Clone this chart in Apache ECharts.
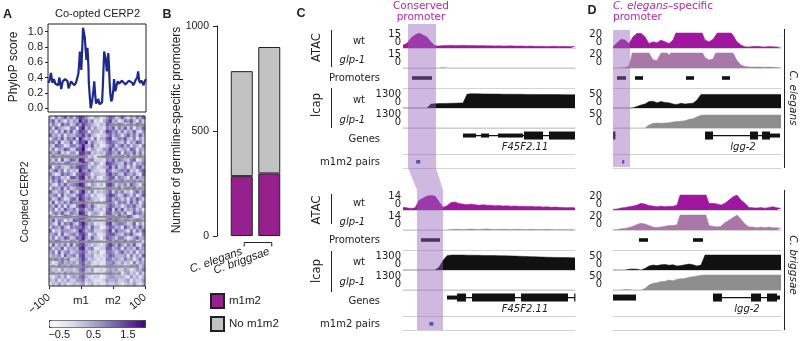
<!DOCTYPE html>
<html>
<head>
<meta charset="utf-8">
<script src="https://cdn.jsdelivr.net/npm/echarts@6.0.0/dist/echarts.min.js"></script>
<style>
html, body { margin: 0; padding: 0; background: #fff; }
#main { width: 800px; height: 341px; }
</style>
</head>
<body>
<div id="main"></div>
<script>
// ---------- panel A : PhyloP profile ----------
var phyloPos = [-99, -97, -94, -91, -88, -85, -81, -79, -77, -75, -73, -70, -67, -65, -63, -60, -58, -55, -53, -50,
  -46, -43, -41, -38, -36, -35, -33, -32, -30, -28.5, -27, -25, -23, -21.5, -19.4, -17.5, -16.7, -15, -13, -11,
  -9, -7, -5.6, -4, -2, 0, 2.8, 5, 6, 8, 10.4, 12, 14.6, 16, 17.4, 19, 20, 21.5, 23, 24.5,
  25.7, 27, 29, 31, 32, 33.5, 34.7, 36, 37.5, 40, 42.4, 45, 48, 51, 55, 58, 62, 65, 69, 72,
  74, 77, 79, 82, 84, 86, 88, 91, 93, 95, 96.5, 98, 100];
var phyloVal = [0.33, 0.36, 0.46, 0.33, 0.38, 0.32, 0.34, 0.30, 0.40, 0.33, 0.25, 0.35, 0.33, 0.38, 0.40, 0.35, 0.26, 0.31, 0.35, 0.33,
  0.30, 0.33, 0.35, 0.45, 0.62, 0.74, 0.60, 0.50, 0.80, 1.05, 1.00, 0.93, 0.75, 0.63, 0.79, 0.55, 0.33, 0.18, 0.00, 0.05,
  0.14, 0.25, 0.35, 0.20, 0.06, 0.08, 0.12, 0.05, 0.03, 0.06, 0.08, 0.30, 0.74, 0.70, 0.65, 0.55, 0.48, 0.60, 0.72, 0.55,
  0.35, 0.20, 0.09, 0.12, 0.10, 0.25, 0.38, 0.30, 0.22, 0.30, 0.35, 0.32, 0.30, 0.36, 0.37, 0.31, 0.32, 0.36, 0.38, 0.33,
  0.30, 0.34, 0.37, 0.40, 0.48, 0.36, 0.33, 0.36, 0.35, 0.30, 0.28, 0.36, 0.38];
var phyloTicks = [0, 0.2, 0.4, 0.6, 0.8, 1.0];

// heatmap: one string per element (row), one digit per position bin (level 0..9)
var heatRows = [
  "31524635 25764213 31246523 63142536", "46253142 43856351 20357341 25463152",
  "25316452 36475432 13265436 41352643", "52643215 51683524 22154625 36251436",
  "34152636 24765143 31376452 52436214", "63425143 35574632 02246354 14635263",
  "14536254 62853415 13367235 46325142", "45261336 14768253 21256543 25143652",
  "32654125 53584362 30135624 63524315", "25143652 26693143 12447352 34265143",
  "53462314 41775623 23256436 15436252", "16325453 35664231 01365243 52614353",
  "42516236 53873452 22154635 43256124", "35241563 24586314 30276543 26351435",
  "61453225 46765243 12347362 35142563", "24635142 32854632 21165234 54623146",
  "53126453 15675413 32257453 26435216", "36452316 64783524 10346625 43152634",
  "25364152 23664352 21256343 62435142", "42153634 56873143 13167524 35264315",
  "15436252 34575632 20255436 14536243", "63245316 42684251 32346253 52314635",
  "34516243 25763413 11257642 36425136", "52364125 63864532 20156354 24153642",
  "26143536 34574241 31367425 45263514", "43625152 15785363 12246534 13546325",
  "35142643 52663452 23157263 62435241", "14536325 43874134 30266345 35126453",
  "52413654 24566243 21345526 43652134", "36254132 65773512 12156473 25314652",
  "43162546 32685341 21267345 54236142", "25436315 45574263 30146534 16425363",
  "61325443 24863452 22357264 43152536", "34516234 53675134 11256643 25463215",
  "25143652 36584263 20365425 53124634", "43652315 42763542 32146354 36245142",
  "16243526 25674323 21257536 42536215", "52436143 43783451 12266345 15342634",
  "35162452 34564232 30155424 63425143", "24351634 52673341 21246533 34152426",
  "43526152 23574232 12155343 25341352", "31245343 42563421 21144532 42315243",
  "23153425 34474312 30245433 31243524", "42314233 23563241 12134342 24312435",
  "34231524 32452331 21245324 13423142", "21342413 43563212 20134433 32142313",
  "32413242 24452321 11243342 23413224", "13242312 32341231 21132232 12324213"
];
var HEAT_MIN = -0.5, HEAT_STEP = 0.28;   // level -> score
// missing data stretches: [row, first bin, last bin]
var heatNA = [[2, 20, 31], [11, 0, 12], [11, 16, 31], [13, 0, 12], [18, 6, 31], [20, 9, 31], [24, 8, 20],
  [28, 0, 25], [29, 10, 31], [35, 0, 29], [40, 0, 6], [42, 0, 29], [44, 0, 23]];
var heatTickPos = [-100, -33.3, 33.3, 100];
var heatTickText = ['−100', 'm1', 'm2', '100'];
var colorbarTicks = [-0.5, 0.5, 1.5];
var colorbarRange = [-0.8, 2.0];

// ---------- panel B ----------
var species = ['C. elegans', 'C. briggsae'];
var withM1m2 = [285, 298];
var withoutM1m2 = [500, 602];

// ---------- panel C : F45F2.11 locus (bins) ----------
var cTopAtacWt = [3, 4.7, 10, 13, 15, 13, 11, 6, 2.3, 2, 2.4, 2.6, 2.8, 2.6, 2.5, 2.7, 2.6, 2.4, 2.5, 2.3,
  2.4, 2.2, 2.3, 2.1, 2.2, 2, 2.1, 2.2, 2, 1.9, 2, 1.8, 1.9, 1.8, 1.7, 1.8, 1.6, 1.7, 1.8, 1.6, 1.7, 1.6, 1.5, 1.6];
var cTopAtacGlp = [0, 0, 0, 0, 0, 0, 0, 0, 0, 0, 0.6, 0, 0, 0, 0, 0, 0, 0, 0, 0, 0, 0, 0, 0, 0, 0, 0, 0, 0, 0,
  0, 0, 0, 0, 0, 0, 0, 0, 0, 0, 0, 0, 0, 0];
var cTopLcapWt = [0, 0, 0, 0, 0, 0, 0, 260, 275, 285, 295, 300, 310, 315, 320, 325,
  900, 930, 925, 920, 915, 915, 910, 905, 905, 900, 900, 895, 895, 890, 890, 885, 885, 880, 880, 875,
  875, 875, 870, 870, 868, 867, 866, 865];
var cTopLcapGlp = [0, 0, 0, 0, 0, 0, 0, 0, 0, 0, 0, 0, 0, 0, 0, 0, 0, 0, 0, 0, 0, 0, 0, 0, 0, 0, 0, 0, 0, 0,
  0, 0, 0, 0, 0, 0, 0, 0, 0, 0, 0, 0, 0, 0];
var cBotAtacWt = [2.5, 2, 1.5, 2, 9, 11, 13, 13.5, 13, 8, 2.5, 4, 7, 7.5, 6, 5.5, 5, 5.5, 5, 4.5,
  5, 4.5, 4.5, 4, 4.2, 3.8, 4, 3.6, 3.8, 3.4, 3.5, 3.2, 3.4, 3, 3.2, 2.8, 3, 2.6, 2.8, 2.5, 2.4, 2.2, 2.3, 2];
var cBotAtacGlp = [0, 0, 0, 0, 0, 0, 0, 0, 0, 0, 0, 0, 0.5, 0.8, 0.6, 0.4, 0.7, 0.9, 0.6, 0.5, 0.8, 1,
  0.7, 0.5, 0.6, 0.8, 0.6, 0.4, 0.5, 0.7, 0.5, 0.4, 0.6, 0.5, 0.4, 0.5, 0.6, 0.4, 0.3, 0.5, 0.4, 0.3, 0.4, 0.3];
var cBotLcapWt = [0, 0, 0, 0, 0, 0, 0, 0, 0, 180, 620, 930, 970, 975, 972, 968, 965, 960, 958,
  955, 950, 945, 940, 935, 930, 925, 920, 915, 905, 895, 885, 875, 865, 860, 850, 840, 830, 825, 820,
  815, 810, 805, 800, 790];
var cBotLcapGlp = [0, 0, 0, 0, 0, 0, 0, 0, 0, 0, 0, 0, 0, 0, 0, 0, 0, 0, 0, 0, 0, 0, 0, 0, 0, 0, 0, 0, 0, 0,
  0, 0, 0, 0, 0, 0, 0, 0, 0, 0, 0, 0, 0, 0];
var cTopProm = [[2.25, 7.25]];
var cBotProm = [[4.5, 9.25]];
var cTopGenes = [{name: 'F45F2.11', line: [15, 43], labelAt: 30.5,
  exons: [[15, 18.25, 'utr'], [19.5, 21.5, 'utr'], [23.75, 30, 'utr'], [30.25, 35, 'cds'], [36.5, 43, 'cds']]}];
var cBotGenes = [{name: 'F45F2.11', line: [11, 43], labelAt: 30.5,
  exons: [[11, 13.5, 'utr'], [13.5, 15.75, 'cds'], [17.25, 28, 'cds'], [29.5, 41.25, 'cds'], [42.8, 43, 'cds']]}];
var cTopPairs = [[3.3, 4.3]];
var cBotPairs = [[6.6, 7.6]];
var cShadeTop = [1.25, 8.25];
var cShadeBot = [3.5, 10];

// ---------- panel D : lgg-2 locus (bins) ----------
var dTopAtacWt = [1.7, 7, 11.6, 10.7, 6, 15, 19.6, 19.6, 15, 6, 8.4, 7, 10.7, 8.4, 6, 10.7, 24, 24, 24, 24,
  24, 24, 24, 10.7, 8.4, 11.6, 19.6, 24, 24, 24, 17, 8.4, 4, 1.7, 1.5, 2, 2.2, 1.8, 1.5, 2, 1.6, 1.3, 1.2];
var dTopAtacGlp = [0, 0, 0.3, 1, 2.5, 24, 24, 24, 24, 20, 11, 10, 20, 24, 17, 24, 24, 24, 24, 24,
  24, 24, 24, 14, 10.7, 12, 24, 24, 24, 24, 20, 10, 4, 2, 1.5, 1.2, 1.5, 1.3, 1, 1.2, 1, 0.8, 0.8];
var dTopLcapWt = [0, 0, 0, 0, 0, 0.5, 4, 7.5, 10, 16, 17, 13, 16, 14, 13, 10, 9, 12, 10, 11,
  12, 20, 34, 34, 34, 34, 34, 34, 34, 34, 34, 34, 34, 34, 34, 34, 34, 34, 34, 34, 34, 34, 34];
var dTopLcapGlp = [0, 0, 0, 0, 0, 0, 0, 0, 0, 7.5, 11.7, 12.5, 12, 12.5, 13, 15, 16, 17, 18, 21.7,
  23, 28, 32, 32.5, 32.5, 32.5, 32.5, 32.5, 32.5, 32.5, 32.5, 32.5, 32.5, 32.5, 32.5, 32.5, 32.5, 32.5, 32.5, 32.5, 32.5, 32.5, 32.5];
var dBotAtacWt = [1, 1.3, 2.7, 3.5, 4.4, 5.3, 6.7, 9, 8, 6, 5.3, 4.4, 5.3, 4.4, 5, 5, 6.7, 24, 24, 24,
  24, 24, 24, 24, 9, 9, 8, 6.7, 9, 13.3, 17.7, 20, 13.3, 9, 3.5, 3, 2.7, 3.2, 2.5, 3.5, 4.5, 3, 2.2];
var dBotAtacGlp = [0.5, 0.5, 1.6, 2, 3.3, 5, 7.5, 9, 8, 6, 4, 3.3, 4, 5, 6, 6, 7, 24, 24, 24,
  24, 24, 24, 24, 6, 5, 4, 5, 10, 13, 16.7, 20, 14.5, 8, 4, 4, 3, 4, 3, 4, 3, 3, 2];
var dBotLcapWt = [0, 0, 0, 0, 2, 2.5, 2, 0, 4, 10, 12.5, 11, 13, 14, 12, 13, 10, 11, 13, 15,
  13, 10, 12.5, 37.5, 37.5, 37.5, 37.5, 37.5, 37.5, 37.5, 37.5, 37.5, 37.5, 37.5, 37.5, 37.5, 37.5, 37.5, 37.5, 37.5, 37.5, 37.5, 37.5];
var dBotLcapGlp = [0, 0, 0, 1.5, 1, 0, 0, 0, 4, 12.5, 16.7, 18, 21, 22, 25, 23, 27, 28, 29, 32,
  33, 35, 37, 37.5, 37.5, 37.5, 37.5, 37.5, 37.5, 37.5, 37.5, 37.5, 37.5, 37.5, 37.5, 37.5, 37.5, 37.5, 37.5, 37.5, 37.5, 37.5, 37.5];
var dTopProm = [[1, 3.25], [5.5, 7.5], [18.25, 20.25], [27.25, 29.25]];
var dBotProm = [[6.5, 8.75], [20, 22.5]];
var dTopGenes = [{name: '', line: [0, 0.6], exons: [[0, 0.6, 'cds']]},
  {name: 'lgg-2', line: [23, 41.75], labelAt: 32.5,
   exons: [[23, 25, 'cds'], [34.25, 36.25, 'cds'], [37.25, 39.25, 'cds'], [39.25, 41.75, 'utr']]}];
var dBotGenes = [{name: '', line: [0, 5.75], exons: [[0, 5.75, 'mid']]},
  {name: 'lgg-2', line: [25, 41.75], labelAt: 33.5,
   exons: [[25, 27.25, 'cds'], [34.5, 37, 'cds'], [38.5, 41, 'cds'], [41, 41.75, 'utr']]}];
var dTopPairs = [[2.3, 2.8]];
var dBotPairs = [];
var dShade = [0, 4.25];

// ---------- styling ----------
var FONT_A = 'Liberation Sans, Arial, sans-serif';
var FONT_C = 'DejaVu Sans, sans-serif';
var INK = '#222';
var MAG = '#b02aae';
var ATAC_WT = '#a1169e', ATAC_GLP = '#a978a8', LCAP_WT = '#111', LCAP_GLP = '#8e8e8e';
var SEP = '#d4d4d4';
var EXON_H = {utr: 4, mid: 6, cds: 8};
var ROWS = {atacWt: [33, 15], atacGlp: [53, 15], prom: [68, 20], lcapWt: [88, 20], lcapGlp: [108, 20], genes: [128, 26], pairs: [154, 14]};

var myChart = echarts.init(document.getElementById('main'));
var grid = [], xAxis = [], yAxis = [], series = [];

function addGrid(g, xa, ya) {
  var i = grid.length;
  grid.push(g);
  xa.gridIndex = i; ya.gridIndex = i;
  xAxis.push(xa); yAxis.push(ya);
  return i;
}
function trackX(xmax) {
  return {type: 'value', min: 0, max: xmax, axisLine: {show: true, onZero: false, lineStyle: {color: SEP, width: 1}},
    axisTick: {show: false}, axisLabel: {show: false}, splitLine: {show: false}};
}
function hiddenAxis() { return {type: 'value', show: false, axisLine: {onZero: false}}; }

// ---- A: line ----
var aLine = addGrid({left: 48, top: 24, width: 98, height: 88, show: true, borderColor: INK, borderWidth: 1},
  {type: 'value', min: -100, max: 100, show: false, axisLine: {onZero: false}},
  {type: 'value', min: -0.05, max: 1.1, axisLine: {show: false, onZero: false}, splitLine: {show: false},
   axisTick: {show: true, length: 3, customValues: phyloTicks, lineStyle: {color: INK}},
   axisLabel: {customValues: phyloTicks, formatter: function (v) { return v.toFixed(1); }, fontSize: 11, color: INK, margin: 5, fontFamily: FONT_A}});
series.push({type: 'line', xAxisIndex: aLine, yAxisIndex: aLine, symbol: 'none', silent: true,
  data: phyloPos.map(function (p, i) { return [p, phyloVal[i]]; }),
  lineStyle: {color: '#1c2a8c', width: 2.2}});

// ---- A: heatmap ----
var nCols = heatRows[0].replace(/ /g, '').length;
var colIds = [], rowIds = [], heatData = [];
for (var c = 0; c < nCols; c++) colIds.push(String(c));
heatRows.forEach(function (row, r) {
  rowIds.push(String(r));
  row.replace(/ /g, '').split('').forEach(function (ch, c) {
    heatData.push([c, r, HEAT_MIN + Number(ch) * HEAT_STEP]);
  });
});
var aHeat = addGrid({left: 49, top: 116, width: 96, height: 170},
  {type: 'category', data: colIds, show: false},
  {type: 'category', data: rowIds, show: false, inverse: true});
var heatSeries = series.length;
series.push({type: 'heatmap', xAxisIndex: aHeat, yAxisIndex: aHeat, data: heatData, silent: true, progressive: 0});
series.push({type: 'custom', xAxisIndex: aHeat, yAxisIndex: aHeat, silent: true, z: 4, data: heatNA,
  encode: {x: [1, 2], y: 0},
  renderItem: function (params, api) {
    var a = api.coord([api.value(1), api.value(0)]);
    var b = api.coord([api.value(2), api.value(0)]);
    var s = api.size([1, 1]);
    return {type: 'rect', shape: {x: a[0] - s[0] / 2, y: a[1] - 0.9, width: b[0] - a[0] + s[0], height: 1.8},
      style: {fill: '#8d8d8d'}};
  }});
// frame + m1/m2 ticks
var aHx = addGrid({left: 49, top: 116, width: 96, height: 170, show: true, borderColor: '#333', borderWidth: 1, z: 10},
  {type: 'value', min: -100, max: 100, axisLine: {show: false, onZero: false}, splitLine: {show: false},
   axisTick: {customValues: heatTickPos, length: 3, lineStyle: {color: INK}},
   axisLabel: {customValues: heatTickPos.slice(1, 3), formatter: function (v) { return heatTickText[heatTickPos.indexOf(v)]; },
     fontSize: 11.5, color: INK, margin: 9, fontFamily: FONT_A}},
  hiddenAxis());
var aHx2 = addGrid({left: 49, top: 116, width: 96, height: 170},
  {type: 'value', min: -100, max: 100, axisLine: {show: false, onZero: false}, splitLine: {show: false}, axisTick: {show: false},
   axisLabel: {customValues: [heatTickPos[0], heatTickPos[3]], rotate: 40,
     formatter: function (v) { return heatTickText[heatTickPos.indexOf(v)]; },
     fontSize: 11, color: INK, margin: 10, fontFamily: FONT_A}},
  hiddenAxis());
// colorbar labels
var aCb = addGrid({left: 49, top: 320, width: 96, height: 7},
  {type: 'value', min: colorbarRange[0], max: colorbarRange[1], axisLine: {show: false, onZero: false}, splitLine: {show: false}, axisTick: {show: false},
   axisLabel: {customValues: colorbarTicks, formatter: function (v) { return String(v).replace('-', '−'); },
     fontSize: 11, color: INK, margin: 2, fontFamily: FONT_A}},
  hiddenAxis());

// ---- B ----
var bG = addGrid({left: 228, top: 26, width: 55, height: 210},
  {type: 'category', data: species, axisLine: {show: false, onZero: false}, axisTick: {show: false},
   axisLabel: {interval: 0, rotate: 20, fontStyle: 'italic', fontSize: 11.5, margin: 15, color: INK, fontFamily: FONT_A}},
  {type: 'value', min: 0, max: 1000, interval: 500, offset: 11,
   axisLine: {show: true, onZero: false, lineStyle: {color: INK}}, axisTick: {show: true, length: 4, lineStyle: {color: INK}},
   splitLine: {show: false}, axisLabel: {fontSize: 10.5, margin: 8, color: INK, fontFamily: FONT_A,
     formatter: function (v) { return String(v); }}});
series.push({name: 'm1m2', type: 'bar', stack: 'prom', xAxisIndex: bG, yAxisIndex: bG, data: withM1m2, barWidth: 22, silent: true,
  itemStyle: {color: '#97208f', borderColor: INK, borderWidth: 1}});
series.push({name: 'No m1m2', type: 'bar', stack: 'prom', xAxisIndex: bG, yAxisIndex: bG, data: withoutM1m2, barWidth: 22, silent: true,
  itemStyle: {color: '#c2c2c2', borderColor: INK, borderWidth: 1}});
series.push({type: 'custom', xAxisIndex: bG, yAxisIndex: bG, silent: true, data: [[0, 1]], encode: {x: [0, 1]},
  renderItem: function (params, api) {
    var a = api.coord([0, 0]), b = api.coord([1, 0]);
    var y = a[1] + 6.5, x0 = a[0] + 2.5, x1 = b[0] + 2.5;
    return {type: 'polyline', shape: {points: [[x0, y + 4], [x0, y], [x1, y], [x1, y + 4]]},
      style: {stroke: INK, lineWidth: 1, fill: null}};
  }});

// ---- C / D track blocks ----
function signalTrack(left, width, top, rowKey, xmax, ymax, values, color, margin) {
  var r = ROWS[rowKey];
  var g = addGrid({left: left, top: top + r[0], width: width, height: r[1]}, trackX(xmax),
    {type: 'value', min: 0, max: ymax, axisLine: {show: false, onZero: false}, axisTick: {show: false}, splitLine: {show: false},
     axisLabel: {customValues: [0], formatter: function () { return ymax + '\n0'; }, verticalAlign: 'bottom',
       align: 'right', lineHeight: 8, fontSize: 10, color: INK, margin: margin, padding: [0, 0, 2, 0], fontFamily: FONT_C}});
  series.push({type: 'line', xAxisIndex: g, yAxisIndex: g, symbol: 'none', silent: true, clip: true, z: 3,
    data: values.map(function (v, i) { return [i, v]; }),
    lineStyle: {width: 0.5, color: color}, areaStyle: {color: color, opacity: 1}});
  return g;
}
function annotGrid(left, width, top, rowKey, xmax) {
  var r = ROWS[rowKey];
  return addGrid({left: left, top: top + r[0], width: width, height: r[1]}, trackX(xmax),
    {type: 'value', min: 0, max: 1, show: false, axisLine: {onZero: false}});
}
function spanSeries(g, items, yFrac, h, fill) {
  series.push({type: 'custom', xAxisIndex: g, yAxisIndex: g, silent: true, z: 5, data: items, encode: {x: [0, 1]},
    renderItem: function (params, api) {
      var a = api.coord([api.value(0), yFrac]), b = api.coord([api.value(1), yFrac]);
      return {type: 'rect', shape: {x: a[0], y: a[1] - h / 2, width: Math.max(b[0] - a[0], 1.5), height: h}, style: {fill: fill}};
    }});
}
function geneSeries(g, genes) {
  series.push({type: 'custom', xAxisIndex: g, yAxisIndex: g, silent: true, z: 5,
    data: genes.map(function (gn) { return gn.line.slice(); }), encode: {x: [0, 1]},
    renderItem: function (params, api) {
      var gn = genes[params.dataIndex], ch = [];
      var GY = 0.71, LY = 0.25;
      var a = api.coord([gn.line[0], GY]), b = api.coord([gn.line[1], GY]);
      ch.push({type: 'line', shape: {x1: a[0], y1: a[1], x2: b[0], y2: b[1]}, style: {stroke: '#111', lineWidth: 1.2}});
      gn.exons.forEach(function (ex) {
        var s = api.coord([ex[0], GY]), e = api.coord([ex[1], GY]), h = EXON_H[ex[2]];
        ch.push({type: 'rect', shape: {x: s[0], y: s[1] - h / 2, width: Math.max(e[0] - s[0], 1.2), height: h}, style: {fill: '#111'}});
      });
      if (gn.name) {
        var t = api.coord([gn.labelAt, LY]);
        ch.push({type: 'text', x: t[0], y: t[1], style: {text: gn.name, fontSize: 10, fontStyle: 'italic', fontFamily: FONT_C,
          fill: INK, align: 'center', verticalAlign: 'middle'}});
      }
      return {type: 'group', children: ch};
    }});
}
function block(left, width, top, xmax, atacMax, lcapMax, d, margin) {
  var ids = {};
  ids.atacWt = signalTrack(left, width, top, 'atacWt', xmax, atacMax, d.atacWt, ATAC_WT, margin);
  ids.atacGlp = signalTrack(left, width, top, 'atacGlp', xmax, atacMax, d.atacGlp, ATAC_GLP, margin);
  ids.prom = annotGrid(left, width, top, 'prom', xmax);
  spanSeries(ids.prom, d.prom, 0.5, 3.6, '#111');
  ids.lcapWt = signalTrack(left, width, top, 'lcapWt', xmax, lcapMax, d.lcapWt, LCAP_WT, margin);
  ids.lcapGlp = signalTrack(left, width, top, 'lcapGlp', xmax, lcapMax, d.lcapGlp, LCAP_GLP, margin);
  ids.genes = annotGrid(left, width, top, 'genes', xmax);
  geneSeries(ids.genes, d.genes);
  ids.pairs = annotGrid(left, width, top, 'pairs', xmax);
  spanSeries(ids.pairs, d.pairs, 0.44, 3.5, '#2b3c9e');
  return ids;
}
var cTop = block(403, 172, 0, 43, 15, 1300, {atacWt: cTopAtacWt, atacGlp: cTopAtacGlp, lcapWt: cTopLcapWt, lcapGlp: cTopLcapGlp,
  prom: cTopProm, genes: cTopGenes, pairs: cTopPairs}, 2);
var cBot = block(403, 172, 162, 43, 14, 1300, {atacWt: cBotAtacWt, atacGlp: cBotAtacGlp, lcapWt: cBotLcapWt, lcapGlp: cBotLcapGlp,
  prom: cBotProm, genes: cBotGenes, pairs: cBotPairs}, 2);
var dTop = block(613, 168, 0, 42, 20, 50, {atacWt: dTopAtacWt, atacGlp: dTopAtacGlp, lcapWt: dTopLcapWt, lcapGlp: dTopLcapGlp,
  prom: dTopProm, genes: dTopGenes, pairs: dTopPairs}, 11);
var dBot = block(613, 168, 162, 42, 20, 50, {atacWt: dBotAtacWt, atacGlp: dBotAtacGlp, lcapWt: dBotLcapWt, lcapGlp: dBotLcapGlp,
  prom: dBotProm, genes: dBotGenes, pairs: dBotPairs}, 11);

var option = {
  animation: false,
  textStyle: {fontFamily: FONT_A},
  grid: grid, xAxis: xAxis, yAxis: yAxis, series: series,
  visualMap: [{type: 'continuous', seriesIndex: heatSeries, min: colorbarRange[0], max: colorbarRange[1], orient: 'horizontal',
    left: 49, top: 320, itemWidth: 7, itemHeight: 96, calculable: false, hoverLink: false, padding: 0,
    text: null, showLabel: false, borderColor: '#333', borderWidth: 1,
    inRange: {color: ['#fcfbfd', '#dadaeb', '#9e9ac8', '#6a51a3', '#3f007d']}}],
  legend: {data: ['m1m2', 'No m1m2'], orient: 'vertical', left: 210, top: 293, itemWidth: 13, itemHeight: 14, itemGap: 7,
    icon: 'rect', selectedMode: false, padding: 0, textStyle: {fontSize: 11.5, color: INK, fontFamily: FONT_A}}
};
myChart.setOption(option);

// ---- text and decorations ----
function txt(x, y, s, o) {
  o = o || {};
  return {type: 'text', x: x, y: y, rotation: o.rot || 0, silent: true, z: 20,
    style: {text: s, fontSize: o.size || 10, fontFamily: o.font || FONT_C, fontStyle: o.italic ? 'italic' : 'normal',
      fontWeight: o.bold ? 'bold' : 'normal', fill: o.color || INK, align: o.align || 'center', verticalAlign: 'middle', rich: o.rich}};
}
function vline(x, y1, y2) {
  return {type: 'line', silent: true, z: 20, shape: {x1: x + 0.5, y1: y1, x2: x + 0.5, y2: y2}, style: {stroke: INK, lineWidth: 1}};
}
var V = Math.PI / 2;
var gfx = [
  txt(7.5, 14.5, 'A', {size: 12.5, bold: true, font: FONT_A}),
  txt(167, 14.5, 'B', {size: 12.5, bold: true, font: FONT_A}),
  txt(301, 14, 'C', {size: 12.5, bold: true, font: FONT_A}),
  txt(592, 11, 'D', {size: 12.5, bold: true, font: FONT_A}),
  txt(97.5, 14, 'Co-opted CERP2', {size: 11, font: FONT_A}),
  txt(14, 67, 'PhyloP score', {size: 12, font: FONT_A, rot: V}),
  txt(25, 202, 'Co-opted CERP2', {size: 10.5, font: FONT_A, rot: V}),
  txt(177, 130, 'Number of germline-specific promoters', {size: 12, font: FONT_A, rot: V}),
  txt(421, 6, 'Conserved', {size: 10.5, color: MAG}),
  txt(421, 17.5, 'promoter', {size: 10.5, color: MAG}),
  txt(613, 6.5, '{i|C. elegans}–specific', {size: 10.5, color: MAG, align: 'left',
    rich: {i: {fontStyle: 'italic', fontSize: 10.5, fontFamily: FONT_C, fill: MAG}}}),
  txt(613, 17.5, 'promoter', {size: 10.5, color: MAG, align: 'left'}),
  txt(793, 98, 'C. elegans', {size: 10.5, italic: true, rot: -V}),
  txt(793, 265, 'C. briggsae', {size: 10.5, italic: true, rot: -V}),
  vline(784, 29, 168), vline(784, 190, 330),
  txt(317, 47.5, 'ATAC', {size: 11.5, rot: V}), txt(317, 105, 'lcap', {size: 11.5, rot: V}),
  txt(317, 210, 'ATAC', {size: 11.5, rot: V}), txt(317, 271, 'lcap', {size: 11.5, rot: V}),
  vline(331, 30, 67), vline(331, 88, 128), vline(331, 194, 224), vline(331, 251, 292)
];
[0, 162].forEach(function (dy) {
  gfx.push(txt(365, 41 + dy, 'wt', {align: 'right'}));
  gfx.push(txt(365, 60 + dy, 'glp-1', {align: 'right', italic: true}));
  gfx.push(txt(380, 78 + dy, 'Promoters', {align: 'right'}));
  gfx.push(txt(365, 100 + dy, 'wt', {align: 'right'}));
  gfx.push(txt(365, 120 + dy, 'glp-1', {align: 'right', italic: true}));
  gfx.push(txt(380, 139 + dy, 'Genes', {align: 'right'}));
  gfx.push(txt(380, 162 + dy, 'm1m2 pairs', {align: 'right'}));
});

// shaded promoter regions, placed through the track x scales
function px(g, v) { return myChart.convertToPixel({xAxisIndex: g}, v); }
var SHADE = 'rgba(150, 100, 186, 0.45)';
var xt0 = px(cTop.atacWt, cShadeTop[0]), xt1 = px(cTop.atacWt, cShadeTop[1]);
var xb0 = px(cBot.atacWt, cShadeBot[0]), xb1 = px(cBot.atacWt, cShadeBot[1]);
gfx.push({type: 'polygon', silent: true, z: 50,
  shape: {points: [[xt0, 24], [xt1, 24], [xt1, 168], [xb1, 190], [xb1, 330], [xb0, 330], [xb0, 190], [xt0, 168]]},
  style: {fill: SHADE}});
var xd0 = px(dTop.atacWt, dShade[0]), xd1 = px(dTop.atacWt, dShade[1]);
gfx.push({type: 'rect', silent: true, z: 50, shape: {x: xd0, y: 30, width: xd1 - xd0, height: 137}, style: {fill: SHADE}});

myChart.setOption({graphic: gfx});
</script>
</body>
</html>
